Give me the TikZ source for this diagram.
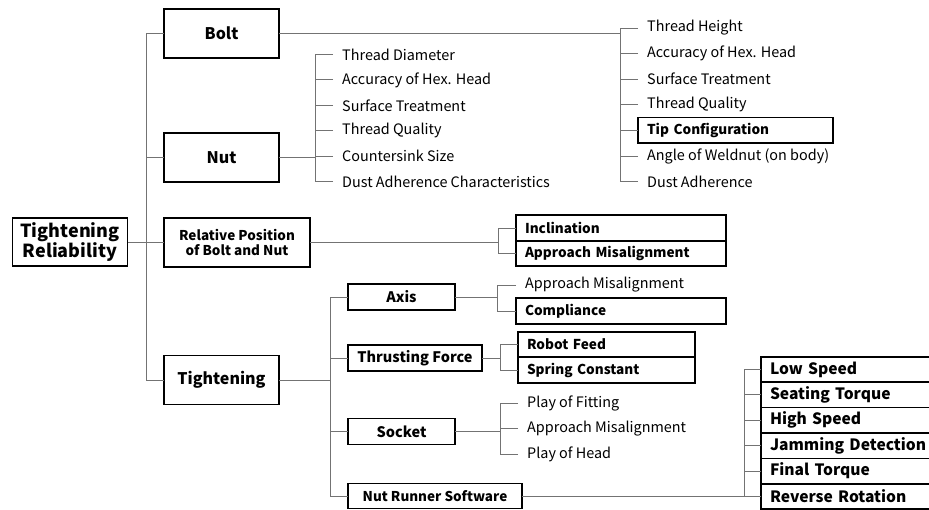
\documentclass[tikz,border=0pt]{standalone}
\usepackage{fontspec}
\setmainfont{Noto Sans CJK JP}
\usepackage{tikz}
\usetikzlibrary{positioning}
\tikzset{mainbox/.style={draw,line width=1.6pt,font=\bfseries\fontsize{16}{19}\selectfont,minimum width=115pt,minimum height=49pt,align=center,inner sep=2pt,outer sep=0pt},
  subbox/.style={draw,line width=1.6pt,font=\bfseries\fontsize{14.5}{17}\selectfont,minimum height=26pt,inner sep=0pt,outer sep=0pt,anchor=west},
  listbox/.style={draw,line width=1.6pt,font=\bfseries\fontsize{13.6}{16}\selectfont,minimum height=25.5pt,text width=#1,inner xsep=9pt,inner ysep=0pt,outer sep=0pt,anchor=west},
  tipbox/.style={listbox=177pt},
  item/.style={anchor=west,inner xsep=9pt,inner ysep=0pt,font=\fontsize{14.4}{16}\selectfont},
  link/.style={draw=black!55,line width=0.9pt},}

\begin{document}
\begin{tikzpicture}[x=1pt,y=-1pt]
    \useasboundingbox (0,0) rectangle (929,510);

    % main column
    \node[mainbox,font=\bfseries\fontsize{18}{20}\selectfont,minimum height=48pt] (root) at (70,242) {Tightening\\Reliability};
    \node[mainbox] (bolt) at (221.5,33.5) {Bolt};
    \node[mainbox] (nut) at (221.5,157.5) {Nut};
    \node[mainbox,minimum width=146pt,font=\bfseries\fontsize{13.5}{15}\selectfont] (relpos) at (237,242.5) {Relative Position\\of Bolt and Nut};
    \node[mainbox] (tight) at (221.5,380) {Tightening};
    \foreach \c in {bolt,nut,relpos,tight}
        \draw[link] (\c.west) -- ++(-18,0) |- (root.east);

    % bolt
    \foreach \t/\s [count=\i] in {Thread Height/item,Accuracy of Hex. Head/item,Surface Treatment/item,Thread Quality/item,Tip Configuration/tipbox,Angle of Weldnut (on body)/item,Dust Adherence/item}
    {
        \node[\s] (b\i) at (638,{28+25.6*(\i-1)}) {\t};
        \draw[link] (b\i.west) -- ++(-18,0) |- (bolt.east);
    }

    % nut
    \foreach \t [count=\i] in {Thread Diameter,Accuracy of Hex. Head,Surface Treatment,Thread Quality,Countersink Size,Dust Adherence Characteristics}
    {
        \node[item] (n\i) at (333,{54.5+25.4*(\i-1)}) {\t};
        \draw[link] (n\i.west) -- ++(-18,0) |- (nut.east);
    }

    % relative position
    \node[listbox=192pt] (incl) at (516,228) {Inclination};
    \node[listbox=192pt] (rmis) [below=0pt of incl] {Approach Misalignment};
    \draw[link] (incl.west) -- ++(-18,0) |- (relpos.east);
    \draw[link] (rmis.west) -- ++(-18,0) |- (relpos.east);

    % tightening
    \node[subbox,minimum width=107pt] (axis) at (348,297) {Axis};
    \node[subbox,minimum width=134pt] (thrust) at (348,358) {Thrusting Force};
    \node[subbox,minimum width=107pt] (socket) at (348,431.5) {Socket};
    \node[subbox,minimum width=174pt,minimum height=25pt,font=\bfseries\fontsize{13.5}{15}\selectfont] (nrs) at (348,496) {Nut Runner Software};
    \foreach \c in {axis,thrust,socket,nrs}
        \draw[link] (\c.west) -- ++(-18,0) |- (tight.east);

    % axis
    \node[item] (amis) at (516,285) {Approach Misalignment};
    \node[listbox=192pt] (comp) at (516,311) {Compliance};
    \draw[link] (amis.west) -- ++(-19,0) |- (axis.east);
    \draw[link] (comp.west) -- ++(-19,0) |- (axis.east);

    % thrusting force
    \node[listbox=159pt] (feed) at (518,344.5) {Robot Feed};
    \node[listbox=159pt] (spring) [below=0pt of feed] {Spring Constant};
    \draw[link] (feed.west) -- ++(-18,0) |- (thrust.east);
    \draw[link] (spring.west) -- ++(-18,0) |- (thrust.east);

    % socket
    \foreach \t [count=\i] in {Play of Fitting,Approach Misalignment,Play of Head}
    {
        \node[item] (s\i) at (518,{403+25.7*(\i-1)}) {\t};
        \draw[link] (s\i.west) -- ++(-18,0) |- (socket.east);
    }

    % nut runner software
    \foreach \t [count=\i] in {Low Speed,Seating Torque,High Speed,Jamming Detection,Final Torque,Reverse Rotation}
    {
        \node[listbox=165pt,minimum height=25.4pt,font=\bfseries\fontsize{15.6}{18}\selectfont] (w\i) at (761,{369.5+25.4*(\i-1)}) {\t};
        \draw[link] (w\i.west) -- ++(-17,0) |- (nrs.east);
    }
\end{tikzpicture}
\end{document}
